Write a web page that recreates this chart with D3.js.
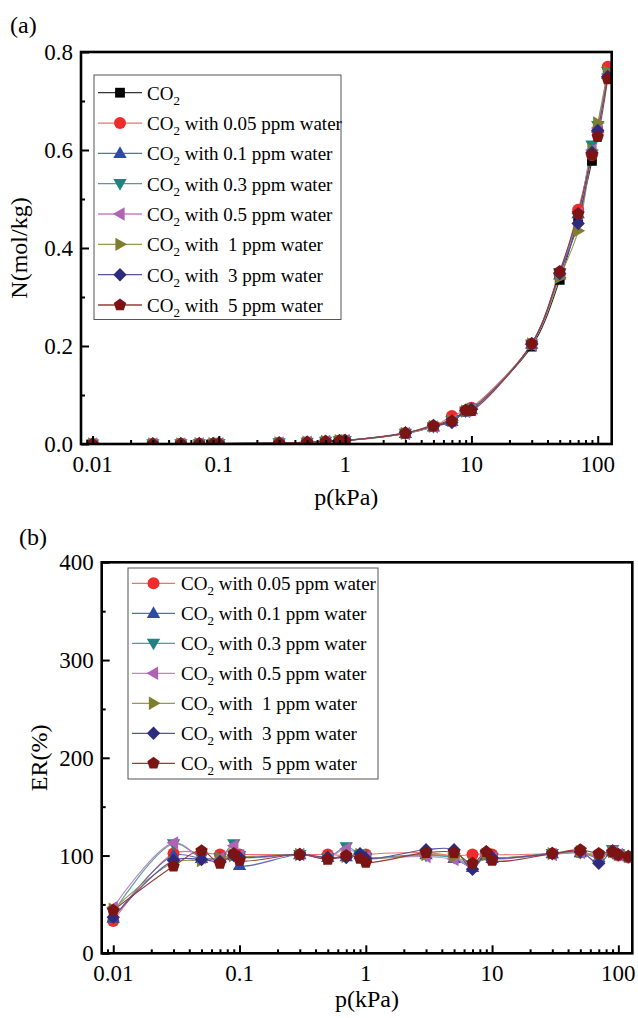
<!DOCTYPE html>
<html>
<head>
<meta charset="utf-8">
<script src="https://cdn.jsdelivr.net/npm/d3@7"></script>
<style>
  html, body { margin: 0; padding: 0; background: #fff; }
  svg { display: block; font-family: "Liberation Serif", "Times New Roman", serif; }
  text { white-space: pre; }
</style>
</head>
<body>
<svg id="fig" width="638" height="1018"></svg>
<script>
// Pressures (kPa) shared by every isotherm
const pressure = [0.01, 0.03, 0.05, 0.07, 0.09, 0.1, 0.3, 0.5, 0.7, 0.9, 1, 3, 5, 7, 9, 10, 30, 50, 70, 90, 100, 120];

// (a) Uptake N (mol/kg)
const nCO2   = [0.00007, 0.0002, 0.00036, 0.0005, 0.00065, 0.0007, 0.0021, 0.0036, 0.005, 0.0065, 0.0072, 0.0215, 0.036, 0.051, 0.066, 0.072, 0.199, 0.335, 0.46, 0.578, 0.64, 0.755];
const nW005  = [0.00002, 0.0002, 0.00037, 0.0005, 0.00066, 0.0007, 0.0021, 0.0036, 0.005, 0.0065, 0.0073, 0.022, 0.036, 0.057, 0.068, 0.074, 0.204, 0.345, 0.478, 0.59, 0.638, 0.77];
const nW01   = [0.00003, 0.0002, 0.00035, 0.0005, 0.00065, 0.0006, 0.0021, 0.0035, 0.005, 0.0066, 0.0071, 0.0217, 0.035, 0.046, 0.066, 0.070, 0.204, 0.345, 0.47, 0.60, 0.645, 0.755];
const nW03   = [0.00003, 0.0002, 0.00035, 0.0005, 0.00073, 0.0007, 0.0021, 0.0035, 0.0054, 0.0066, 0.0071, 0.0215, 0.035, 0.047, 0.067, 0.071, 0.204, 0.35, 0.465, 0.61, 0.65, 0.76];
const nW05   = [0.00003, 0.0002, 0.00035, 0.0005, 0.00072, 0.0007, 0.0021, 0.0035, 0.0053, 0.0065, 0.0071, 0.0213, 0.035, 0.047, 0.066, 0.070, 0.203, 0.35, 0.47, 0.60, 0.645, 0.755];
const nW1    = [0.00003, 0.0002, 0.00034, 0.0005, 0.00065, 0.0007, 0.0021, 0.0035, 0.005, 0.0066, 0.0070, 0.0217, 0.036, 0.048, 0.067, 0.071, 0.204, 0.34, 0.435, 0.60, 0.655, 0.76];
const nW3    = [0.00003, 0.0002, 0.00034, 0.0005, 0.00065, 0.0007, 0.0021, 0.0035, 0.005, 0.0066, 0.0070, 0.0228, 0.038, 0.044, 0.069, 0.071, 0.204, 0.348, 0.45, 0.595, 0.64, 0.75];
const nW5    = [0.00003, 0.0002, 0.00038, 0.0005, 0.00066, 0.0007, 0.0021, 0.0035, 0.005, 0.0063, 0.0067, 0.0222, 0.037, 0.047, 0.069, 0.068, 0.205, 0.352, 0.47, 0.59, 0.627, 0.745];

// (b) Enhancement ratio ER (%)
const erW005 = [33, 102, 103, 101, 101, 101, 101, 101, 100, 100, 101, 103, 100, 101, 102, 101, 102, 103, 101, 103, 100, 98];
const erW01  = [36, 100, 97, 97, 100, 90, 101, 98, 99, 101, 98, 101, 97, 88, 100, 97, 102, 103, 98, 104, 101, 99];
const erW03  = [42, 112, 98, 98, 112, 100, 101, 98, 109, 101, 98, 100, 98, 90, 101, 98, 102, 103, 99, 106, 102, 99];
const erW05  = [47, 113, 98, 97, 110, 100, 101, 98, 107, 100, 98, 99, 96, 90, 100, 97, 101, 103, 99, 104, 101, 99];
const erW1   = [45, 93, 95, 97, 100, 99, 101, 97, 99, 101, 97, 101, 99, 92, 101, 98, 102, 104, 99, 104, 101, 99];
const erW3   = [37, 95, 96, 94, 100, 98, 101, 98, 98, 102, 97, 106, 106, 86, 104, 98, 102, 104, 92, 105, 101, 99];
const erW5   = [44, 89, 105, 92, 102, 95, 101, 96, 100, 97, 93, 103, 103, 92, 104, 95, 102, 106, 102, 104, 101, 99];

// Legend wording (text after the "CO2" prefix)
const labelSuffix = ["", " with 0.05 ppm water", " with 0.1 ppm water", " with 0.3 ppm water", " with 0.5 ppm water", " with  1 ppm water", " with  3 ppm water", " with  5 ppm water"];
const seriesColor = ["#000000", "#ee2c2c", "#2f4aa3", "#1c8580", "#b062b5", "#7d7f2c", "#2e2a7e", "#7c1414"];
const lineColor   = ["#333333", "#f07070", "#5a6cb8", "#4aa09c", "#c084c4", "#96984e", "#5552a0", "#9a3a3a"];
const seriesShape = ["square", "circle", "triUp", "triDown", "triLeft", "triRight", "diamond", "pentagon"];

const yTicksA = [0, 0.2, 0.4, 0.6, 0.8];
const yTicksB = [0, 100, 200, 300, 400];
const xTickLabels = [0.01, 0.1, 1, 10, 100];

const nSeries  = [nCO2, nW005, nW01, nW03, nW05, nW1, nW3, nW5];
const erSeries = [erW005, erW01, erW03, erW05, erW1, erW3, erW5];

// ---------- marker shapes ----------
function shapePath(kind) {
  const poly = pts => "M" + pts.map(p => p[0].toFixed(2) + "," + p[1].toFixed(2)).join("L") + "Z";
  switch (kind) {
    case "square": return poly([[-4.9, -4.9], [4.9, -4.9], [4.9, 4.9], [-4.9, 4.9]]);
    case "circle": return "M6,0A6,6 0 1,1 -6,0A6,6 0 1,1 6,0Z";
    case "triUp": return poly([[0, -7], [6.7, 4.6], [-6.7, 4.6]]);
    case "triDown": return poly([[0, 7], [6.7, -4.6], [-6.7, -4.6]]);
    case "triLeft": return poly([[-7, 0], [4.6, -6.7], [4.6, 6.7]]);
    case "triRight": return poly([[7, 0], [-4.6, -6.7], [-4.6, 6.7]]);
    case "diamond": return poly([[0, -6.7], [6.7, 0], [0, 6.7], [-6.7, 0]]);
    case "pentagon": {
      const pts = d3.range(5).map(i => {
        const a = -Math.PI / 2 + i * 2 * Math.PI / 5;
        return [6.5 * Math.cos(a), 6.5 * Math.sin(a)];
      });
      return poly(pts);
    }
  }
}

const svg = d3.select("#fig");

function drawPanel(opt) {
  const { left, right, top, bottom, yDomain, yTicks, yMinorStep, yFormat, tag, tagX, tagY, yTitle, yTitleX, xTitleDy, series, seriesIdx, legend, clipId } = opt;

  const x = d3.scaleLog().domain([0.0081, 129]).range([left, right]);
  const y = d3.scaleLinear().domain(yDomain).range([bottom, top]);

  const g = svg.append("g");

  g.append("clipPath").attr("id", clipId)
    .append("rect").attr("x", left).attr("y", top).attr("width", right - left).attr("height", bottom - top);

  // data: smooth lines then markers
  const data = g.append("g").attr("clip-path", `url(#${clipId})`);
  const line = d3.line().x(d => x(d[0])).y(d => y(d[1])).curve(d3.curveCatmullRom.alpha(0.5));
  series.forEach((vals, k) => {
    const si = seriesIdx[k];
    const pts = pressure.map((p, i) => [p, vals[i]]);
    data.append("path").attr("d", line(pts))
      .attr("fill", "none").attr("stroke", lineColor[si]).attr("stroke-width", 1.1);
  });
  series.forEach((vals, k) => {
    const si = seriesIdx[k];
    data.append("g").selectAll("path").data(pressure.map((p, i) => [p, vals[i]])).join("path")
      .attr("d", shapePath(seriesShape[si]))
      .attr("transform", d => `translate(${x(d[0])},${y(d[1])})`)
      .attr("fill", seriesColor[si]);
  });

  // axes (ticks pointing inward)
  const xAxis = d3.axisBottom(x).tickValues(xTickLabels).tickSize(-8).tickFormat(() => "");
  const minorX = [];
  d3.range(-3, 3).forEach(e => d3.range(2, 10).forEach(m => {
    const v = m * Math.pow(10, e);
    if (v >= 0.0081 && v <= 129) minorX.push(v);
  }));
  const xg = g.append("g").attr("transform", `translate(0,${bottom})`).call(xAxis);
  xg.select(".domain").remove();
  xg.selectAll("line").attr("stroke", "#000").attr("stroke-width", 2);
  const xm = g.append("g").attr("transform", `translate(0,${bottom})`)
    .call(d3.axisBottom(x).tickValues(minorX).tickSize(-4).tickFormat(() => ""));
  xm.select(".domain").remove();
  xm.selectAll("line").attr("stroke", "#000").attr("stroke-width", 2);

  const yg = g.append("g").attr("transform", `translate(${left},0)`)
    .call(d3.axisLeft(y).tickValues(yTicks).tickSize(-8).tickFormat(() => ""));
  yg.select(".domain").remove();
  yg.selectAll("line").attr("stroke", "#000").attr("stroke-width", 2);
  const minorY = d3.range(yDomain[0] + yMinorStep, yDomain[1], yMinorStep * 2);
  const ym = g.append("g").attr("transform", `translate(${left},0)`)
    .call(d3.axisLeft(y).tickValues(minorY).tickSize(-4).tickFormat(() => ""));
  ym.select(".domain").remove();
  ym.selectAll("line").attr("stroke", "#000").attr("stroke-width", 2);

  // frame
  g.append("rect").attr("x", left).attr("y", top).attr("width", right - left).attr("height", bottom - top)
    .attr("fill", "none").attr("stroke", "#000").attr("stroke-width", 2.6);

  // tick labels
  g.append("g").selectAll("text").data(xTickLabels).join("text")
    .attr("x", d => x(d)).attr("y", bottom + 28)
    .attr("text-anchor", "middle").attr("font-size", 23).text(d => String(d));
  g.append("g").selectAll("text").data(yTicks).join("text")
    .attr("x", left - 8).attr("y", d => y(d) + 8)
    .attr("text-anchor", "end").attr("font-size", 23).text(yFormat);

  // titles
  g.append("text").attr("x", (left + right) / 2).attr("y", bottom + xTitleDy)
    .attr("text-anchor", "middle").attr("font-size", 24).text("p(kPa)");
  g.append("text").attr("transform", `translate(${yTitleX},${(top + bottom) / 2}) rotate(-90)`)
    .attr("text-anchor", "middle").attr("font-size", 24).text(yTitle);
  g.append("text").attr("x", tagX).attr("y", tagY).attr("font-size", 24).text(tag);

  // legend
  const L = legend;
  const lg = g.append("g");
  lg.append("rect").attr("x", L.x0).attr("y", L.y0).attr("width", L.x1 - L.x0).attr("height", L.y1 - L.y0)
    .attr("fill", "#fff").attr("stroke", "#555").attr("stroke-width", 1);
  seriesIdx.forEach((si, k) => {
    const cy = L.row0 + k * L.step;
    lg.append("line").attr("x1", L.lx0).attr("x2", L.lx1).attr("y1", cy).attr("y2", cy)
      .attr("stroke", lineColor[si]).attr("stroke-width", 1.3);
    lg.append("path").attr("d", shapePath(seriesShape[si]))
      .attr("transform", `translate(${(L.lx0 + L.lx1) / 2},${cy})`).attr("fill", seriesColor[si]);
    const t = lg.append("text").attr("x", L.tx).attr("y", cy + 7).attr("font-size", 19);
    t.append("tspan").text("CO");
    t.append("tspan").attr("font-size", 13).attr("dy", 5).text("2");
    if (labelSuffix[si]) t.append("tspan").attr("dy", -5).text(labelSuffix[si]);
  });
}

// (a) isotherms
drawPanel({
  left: 81, right: 611.7, top: 52, bottom: 444,
  yDomain: [0, 0.8], yTicks: yTicksA, yMinorStep: 0.1, yFormat: d3.format(".1f"),
  tag: "(a)", tagX: 10, tagY: 33, yTitle: "N(mol/kg)", yTitleX: 27, xTitleDy: 61,
  series: nSeries, seriesIdx: [0, 1, 2, 3, 4, 5, 6, 7], clipId: "clipA",
  legend: { x0: 94, y0: 75, x1: 341, y1: 319.5, row0: 92.7, step: 30.33, lx0: 98, lx1: 142, tx: 147 }
});

// (b) enhancement ratio
drawPanel({
  left: 101.7, right: 632.3, top: 562.3, bottom: 953.3,
  yDomain: [0, 400], yTicks: yTicksB, yMinorStep: 50, yFormat: d => String(d),
  tag: "(b)", tagX: 19, tagY: 545, yTitle: "ER(%)", yTitleX: 47, xTitleDy: 54,
  series: erSeries, seriesIdx: [1, 2, 3, 4, 5, 6, 7], clipId: "clipB",
  legend: { x0: 128, y0: 568, x1: 378, y1: 779, row0: 583.3, step: 30, lx0: 132, lx1: 175, tx: 181 }
});
</script>
</body>
</html>
